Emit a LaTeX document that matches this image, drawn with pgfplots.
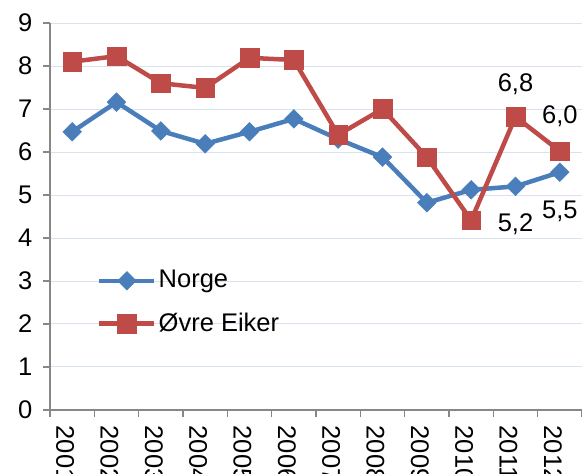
\documentclass[border=0pt]{standalone}
\usepackage{fontspec}
\setmainfont{Liberation Sans}
\usepackage{pgfplots}
\pgfplotsset{compat=1.18}
\definecolor{nblue}{HTML}{4A7EBB}
\definecolor{ored}{HTML}{BE4B48}
\definecolor{gridc}{HTML}{D9E2EF}
\definecolor{axc}{HTML}{878787}
\begin{document}
\begin{tikzpicture}
\fontsize{25.5}{30}\selectfont
\clip (-50pt,-64pt) rectangle (532pt,410pt);
\begin{axis}[
  scale only axis, width=532pt, height=387pt,
  xmin=-0.5, xmax=11.5, ymin=0, ymax=9,
  axis lines=left, axis line style={-, axc, line width=1.2pt},
  xtick={0,1,2,3,4,5,6,7,8,9,10,11},
  xticklabels={2001,2002,2003,2004,2005,2006,2007,2008,2009,2010,2011,2012},
  major x tick style={draw=none},
  minor xtick={-0.5,0.5,1.5,2.5,3.5,4.5,5.5,6.5,7.5,8.5,9.5,10.5,11.5},
  minor x tick style={axc, line width=1.2pt},
  minor tick length=7pt,
  ytick={0,1,2,3,4,5,6,7,8,9},
  y tick style={axc, line width=1.2pt},
  major tick length=7pt,
  tick align=outside,
  ymajorgrids, grid style={gridc, line width=1pt},
  tick label style={font=\fontsize{25.5}{30}\selectfont},
  xticklabel style={rotate=-90, anchor=west, yshift=-7pt},
  yticklabel style={xshift=-2pt},
  /pgf/number format/assume math mode=true,
  legend style={draw=none, fill=none, at={(axis cs:0.56,2.5)}, anchor=west,
    inner sep=0pt, row sep=19pt, column sep=1pt,
    nodes={inner sep=1pt, font=\fontsize{25.5}{30}\selectfont}},
  legend cell align=left,
  legend image code/.code={\draw[mark repeat=2,mark phase=2,#1] plot coordinates {(0pt,0pt) (27.5pt,0pt) (55pt,0pt)};},
]
\addplot[nblue, line width=4.5pt, mark=square*, mark size=6.6pt,
  mark options={rotate=45, fill=nblue, draw=nblue, line width=0.5pt}]
coordinates {(0,6.47) (1,7.16) (2,6.49) (3,6.19) (4,6.47) (5,6.77) (6,6.30) (7,5.88) (8,4.82) (9,5.12) (10,5.2) (11,5.53)};
\addlegendentry{Norge}
\addplot[ored, line width=4.5pt, mark=square*, mark size=9.3pt,
  mark options={fill=ored, draw=ored, line width=0.5pt}]
coordinates {(0,8.1) (1,8.23) (2,7.6) (3,7.49) (4,8.19) (5,8.14) (6,6.4) (7,7.0) (8,5.88) (9,4.41) (10,6.82) (11,6.02)};
\addlegendentry{Øvre Eiker}
\node[font=\fontsize{25.5}{30}\selectfont] at (axis cs:10,6.82) [yshift=33pt] {6,8};
\node[font=\fontsize{25.5}{30}\selectfont] at (axis cs:11,6.02) [yshift=35pt] {6,0};
\node[font=\fontsize{25.5}{30}\selectfont] at (axis cs:10,5.2) [yshift=-38pt] {5,2};
\node[font=\fontsize{25.5}{30}\selectfont] at (axis cs:11,5.53) [yshift=-39pt] {5,5};
\end{axis}
\end{tikzpicture}
\end{document}
